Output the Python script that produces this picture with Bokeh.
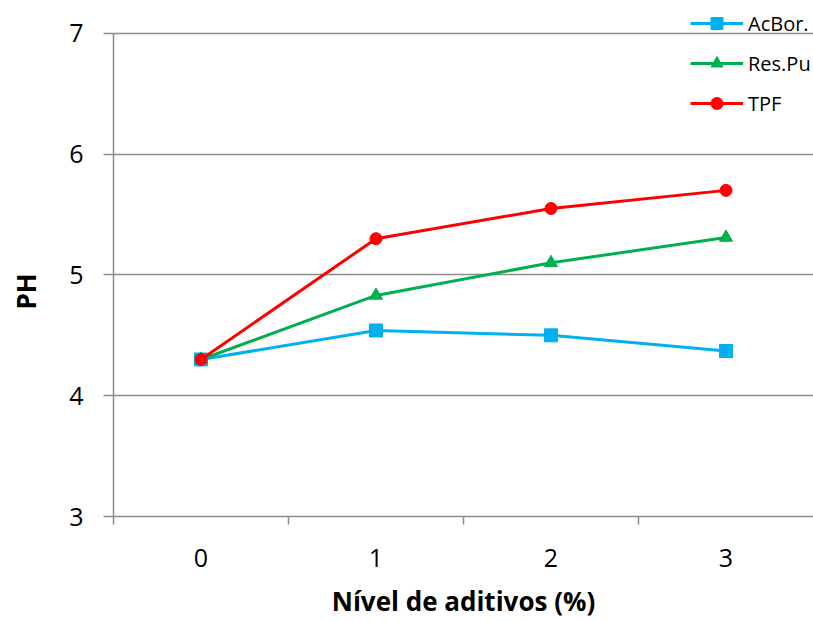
from bokeh.plotting import figure
from bokeh.models import FixedTicker, Legend, LegendItem, Range1d, Title
from bokeh.embed import file_html
from bokeh.resources import INLINE

# Additive level (%) and measured pH for each treatment
levels = [0, 1, 2, 3]
level_labels = ["0", "1", "2", "3"]
acbor = [4.30, 4.54, 4.50, 4.37]
respu = [4.30, 4.83, 5.10, 5.31]
tpf = [4.30, 5.30, 5.55, 5.70]
y_ticks = [3, 4, 5, 6, 7]

FONT = "Open Sans"
GRID = "#8c8c8c"

# the frame reaches the top edge so the legend can sit above the 7 gridline;
# the y axis itself is bounded to 3..7
p = figure(width=813, height=621, output_backend="svg", toolbar_location=None,
           x_range=Range1d(-0.5, 3.5), y_range=Range1d(3, 7.272),
           min_border_left=113, min_border_right=0, min_border_top=0,
           min_border_bottom=103)
p.outline_line_color = None
p.background_fill_color = "white"
p.border_fill_color = "white"

# category ticks sit between categories, labels at category centres
p.xaxis.ticker = FixedTicker(ticks=levels, minor_ticks=[-0.5, 0.5, 1.5, 2.5])
p.xaxis.major_label_overrides = {v: s for v, s in zip(levels, level_labels)}
p.xaxis.major_tick_line_color = None
p.xaxis.minor_tick_line_color = GRID
p.xaxis.minor_tick_out = 8
p.xaxis.minor_tick_in = 0
p.xaxis.minor_tick_line_width = 1.5
p.xaxis.major_label_standoff = 24
p.xaxis.axis_label = "Nível de aditivos (%)"
p.xaxis.axis_label_standoff = 13
p.xaxis.axis_label_text_font = FONT
p.xaxis.axis_label_text_font_size = "26px"
p.xaxis.axis_label_text_font_style = "bold"
p.xaxis.axis_label_text_color = "black"

p.yaxis.ticker = FixedTicker(ticks=y_ticks, minor_ticks=[])
p.yaxis.bounds = (y_ticks[0], y_ticks[-1])
p.yaxis.major_tick_out = 10
p.yaxis.major_tick_in = 0
p.yaxis.major_tick_line_color = GRID
p.yaxis.major_tick_line_width = 1.5
p.yaxis.major_label_standoff = 20
# blank spacer label widens the axis panel so the title sits further left
p.yaxis.axis_label = " "
p.yaxis.axis_label_standoff = 16
p.yaxis.axis_label_text_font_size = "1px"

for ax in (p.xaxis, p.yaxis):
    ax.axis_line_color = GRID
    ax.axis_line_width = 1.5
    ax.major_label_text_font = FONT
    ax.major_label_text_font_size = "25px"
    ax.major_label_text_color = "black"

# y axis title, placed along the left side of the plot area
p.add_layout(Title(text="PH", align="left", offset=207, standoff=5,
                   text_font=FONT, text_font_size="26px",
                   text_font_style="bold", text_color="black"), "left")

p.xgrid.grid_line_color = None
p.ygrid.ticker = FixedTicker(ticks=y_ticks[1:])
p.ygrid.grid_line_color = GRID
p.ygrid.grid_line_width = 1.5

series = [
    ("AcBor.", acbor, "#00b0f0", "square"),
    ("Res.Pu", respu, "#00b050", "triangle"),
    ("TPF", tpf, "#ff0000", "circle"),
]

items = []
for name, vals, color, marker in series:
    ln = p.line(levels, vals, line_color=color, line_width=3)
    sc = p.scatter(levels, vals, marker=marker, size=13 if marker != "circle" else 12,
                   fill_color=color, line_color=color)
    items.append(LegendItem(label=name, renderers=[ln, sc]))

legend = Legend(items=items, location=(577, 398), orientation="vertical",
                glyph_width=53, glyph_height=30, label_height=20,
                label_standoff=5, spacing=10, padding=0, margin=0,
                border_line_color=None, background_fill_alpha=0,
                label_text_font=FONT, label_text_font_size="20px",
                label_text_color="black")
p.add_layout(legend, "center")

open("out.html", "w").write(file_html(p, INLINE))
